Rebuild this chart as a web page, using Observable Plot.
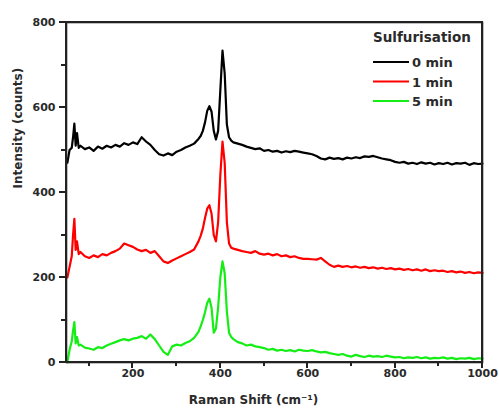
<!DOCTYPE html>
<html>
<head>
<meta charset="utf-8">
<script src="https://cdn.jsdelivr.net/npm/d3@7"></script>
<script src="https://cdn.jsdelivr.net/npm/@observablehq/plot@0.6"></script>
<style>
  html, body { margin: 0; padding: 0; background: #fff; }
  #chart { position: relative; width: 499px; height: 410px; }
  .edge { position: absolute; background: #222; pointer-events: none; z-index: 5; }
</style>
</head>
<body>
<div id="chart"></div>
<script>
const wavenumber = [50,55,60,63,66,69,72,76,80,
  90,100,110,120,130,140,150,160,170,180,190,200,210,220,230,240,250,260,270,280,290,300,310,320,330,340,350,
  355,360,365,370,375,380,385,390,395,400,405,410,415,420,425,430,
  440,450,460,470,480,490,500,510,520,530,540,550,560,570,580,590,600,610,620,630,640,650,660,670,680,690,700,
  710,720,730,740,750,760,770,780,790,800,810,820,830,840,850,860,870,880,890,900,910,920,930,940,950,960,970,980,990,1000];

const counts0min = [470,500,505,530,562,510,540,505,510,
  502,506,498,508,503,510,506,512,508,516,512,518,514,530,520,512,500,490,487,492,488,496,500,506,510,515,526,
  533,545,565,592,603,590,545,525,545,640,734,680,560,530,522,518,
  515,512,508,505,502,504,498,500,496,498,494,497,495,498,496,494,492,490,486,480,478,482,479,481,478,482,480,
  483,481,485,484,486,483,480,478,476,472,470,472,468,470,467,471,468,470,466,469,467,470,466,469,468,470,465,469,467,468];

const counts1min = [200,225,250,300,338,265,285,255,260,
  250,246,252,248,255,252,258,262,268,280,276,272,266,262,265,258,262,250,238,234,240,245,250,255,260,266,285,
  298,315,340,362,370,350,300,285,330,440,520,470,330,280,270,268,
  265,262,260,258,262,256,254,256,252,255,250,252,248,250,246,244,244,243,242,246,238,230,225,228,225,227,224,
  226,223,225,222,224,221,223,220,222,219,221,218,220,217,219,216,219,215,217,215,216,213,215,212,214,211,213,210,212,211];

const counts5min = [0,30,50,75,95,45,60,40,42,
  35,33,30,36,34,40,44,48,52,55,52,56,58,62,56,66,55,40,25,18,38,42,40,46,50,58,72,
  85,100,118,140,150,128,70,80,130,200,238,210,120,70,60,55,
  48,45,40,42,38,36,34,30,32,28,30,27,29,26,30,28,27,29,26,24,25,22,20,18,20,16,14,
  18,15,13,16,14,15,13,16,14,12,13,10,12,11,13,10,12,9,11,10,12,9,11,8,10,9,11,8,10,9];

const seriesNames = ["0 min", "1 min", "5 min"];
const seriesColors = ["#000000", "#ff0000", "#14ee14"];
const seriesValues = [counts0min, counts1min, counts5min];

const xMajorTicks = [200, 400, 600, 800, 1000];
const xMinorTicks = [100, 300, 500, 700, 900];
const yMajorTicks = [0, 200, 400, 600, 800];
const yMinorTicks = [100, 300, 500, 700];

const legendTitle = "Sulfurisation";
const xTitle = "Raman Shift (cm\u207B\u00B9)";
const yTitle = "Intensity (counts)";

const rows = [];
seriesNames.forEach((name, i) => {
  wavenumber.forEach((w, j) => rows.push({ shift: w, intensity: seriesValues[i][j], series: name }));
});

const font = "'DejaVu Sans', 'Liberation Sans', Arial, sans-serif";
const ink = "#2a2a2a";

const chart = Plot.plot({
  width: 499,
  height: 410,
  marginLeft: 66,
  marginRight: 17,
  marginTop: 22,
  marginBottom: 48,
  style: { fontFamily: font, fontSize: "11px", fontWeight: "bold", background: "#fff", color: ink },
  x: { domain: [48, 1000] },
  y: { domain: [0, 800] },
  color: { domain: seriesNames, range: seriesColors },
  marks: [
    Plot.line(rows, { x: "shift", y: "intensity", z: "series", stroke: "series", strokeWidth: 2.2 }),
    Plot.frame({ stroke: ink, strokeWidth: 1.6 }),
    Plot.axisX({ ticks: xMajorTicks, tickSize: 0, tickPadding: 7, tickFormat: d => String(d), label: null }),
    Plot.axisY({ ticks: yMajorTicks, tickSize: 0, tickPadding: 11, tickFormat: d => String(d), label: null }),
    Plot.text([xTitle], { frameAnchor: "bottom", dy: 41, dx: -21, fontSize: 12, fontWeight: "bold", fill: ink }),
    Plot.text([yTitle], { frameAnchor: "left", dx: -48, dy: -4, rotate: -90, fontSize: 12, fontWeight: "bold", fill: ink })
  ]
});

const holder = document.getElementById("chart");
holder.appendChild(chart);

// Scales from Plot
const sx = chart.scale("x");
const sy = chart.scale("y");
const [x0, x1] = sx.range;
const [y0, y1] = sy.range; // y0 bottom, y1 top

// Frame and tick marks as an overlay, positioned with Plot's scales
const box = (left, top, w, h) => {
  const d = document.createElement("div");
  d.className = "edge";
  d.style.left = left + "px";
  d.style.top = top + "px";
  d.style.width = w + "px";
  d.style.height = h + "px";
  holder.appendChild(d);
};
box(x0 - 1, y1 - 1, x1 - x0 + 2, 2);      // top
box(x0 - 1, y0 - 1, x1 - x0 + 2, 2);      // bottom
box(x0 - 1, y1 - 1, 2, y0 - y1 + 2);      // left
box(x1 - 1, y1 - 1, 2, y0 - y1 + 2);      // right
xMajorTicks.forEach(t => box(Math.round(sx.apply(t)) - 1, y0 + 1, 2, 5));
xMinorTicks.forEach(t => box(Math.round(sx.apply(t)) - 1, y0 + 1, 2, 3));
yMajorTicks.forEach(t => box(x0 - 7, Math.round(sy.apply(t)) - 1, 6, 2));
yMinorTicks.forEach(t => box(x0 - 5, Math.round(sy.apply(t)) - 1, 4, 2));

// Legend inside the plot frame (top right)
const svg = d3.select(chart);
const lg = svg.append("g").attr("font-family", font).attr("font-weight", "bold").attr("text-anchor", "start");
lg.append("text").attr("x", x1 - 109).attr("y", y1 + 20).attr("font-size", 13.5).attr("fill", ink).text(legendTitle);
seriesNames.forEach((name, i) => {
  const cy = y1 + 40 + i * 19.5;
  lg.append("line").attr("x1", x1 - 109).attr("x2", x1 - 73).attr("y1", cy).attr("y2", cy)
    .attr("stroke", seriesColors[i]).attr("stroke-width", 2);
  lg.append("text").attr("x", x1 - 70).attr("y", cy + 5).attr("font-size", 13).attr("fill", ink).text(name);
});
</script>
</body>
</html>
